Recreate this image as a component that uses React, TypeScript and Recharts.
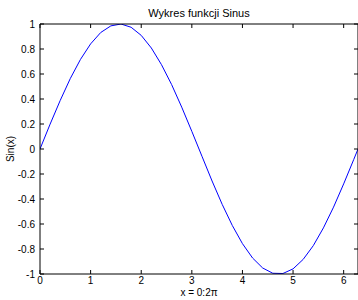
import React from 'react';
import { LineChart, Line, XAxis, YAxis, Label } from 'recharts';

// samples (x in radians, y = value plotted)
const xValues = [
  0, 0.2, 0.4, 0.6, 0.8, 1.0, 1.2, 1.4, 1.6, 1.8, 2.0, 2.2, 2.4, 2.6, 2.8, 3.0,
  3.2, 3.4, 3.6, 3.8, 4.0, 4.2, 4.4, 4.6, 4.8, 5.0, 5.2, 5.4, 5.6, 5.8, 6.0, 6.2, 6.2832,
];
const yValues = [
  0, 0.199, 0.389, 0.565, 0.717, 0.841, 0.932, 0.985, 1.0, 0.974, 0.909, 0.808, 0.675,
  0.516, 0.335, 0.141, -0.058, -0.256, -0.443, -0.612, -0.757, -0.872, -0.952, -0.994,
  -0.996, -0.959, -0.883, -0.773, -0.631, -0.465, -0.279, -0.083, 0,
];
const xTicks = [0, 1, 2, 3, 4, 5, 6];
const yTicks = [-1, -0.8, -0.6, -0.4, -0.2, 0, 0.2, 0.4, 0.6, 0.8, 1];
const xDomain: [number, number] = [0, 6.2832];
const yDomain: [number, number] = [-1, 1];

const data = xValues.map((x, i) => ({ x, y: yValues[i] }));

const font = '"Liberation Sans", Arial, sans-serif';
const tickStyle = { fontSize: 10, fill: '#000', fontFamily: font };
const axisColor = '#000';

export default function App() {
  return (
    <div style={{ position: 'absolute', left: 0, top: 0, width: 358, height: 300, overflow: 'hidden', background: '#fff' }}>
      <LineChart width={359} height={300} data={data} margin={{ top: 23, right: 0, bottom: 0, left: 0 }}>
        <XAxis
          xAxisId="bottom"
          dataKey="x"
          type="number"
          domain={xDomain}
          ticks={xTicks}
          allowDataOverflow
          height={26}
          tickSize={-4}
          tickMargin={7}
          tick={tickStyle}
          stroke={axisColor}
        >
          <Label
            content={({ viewBox }: any) => (
              <text x={viewBox.x + viewBox.width / 2} y={296} textAnchor="middle" fontSize={10} fontFamily={font} fill="#000">
                x = 0:2π
              </text>
            )}
          />
        </XAxis>
        <XAxis
          xAxisId="top"
          orientation="top"
          dataKey="x"
          type="number"
          domain={xDomain}
          ticks={xTicks}
          allowDataOverflow
          height={1}
          tickSize={-4}
          tickFormatter={() => ''}
          stroke={axisColor}
        >
          <Label
            content={({ viewBox }: any) => (
              <text x={viewBox.x + viewBox.width / 2} y={17} textAnchor="middle" fontSize={11} fontFamily={font} fill="#000">
                Wykres funkcji Sinus
              </text>
            )}
          />
        </XAxis>
        <YAxis
          yAxisId="left"
          dataKey="y"
          type="number"
          domain={yDomain}
          ticks={yTicks}
          allowDataOverflow
          width={40}
          tickSize={-4}
          tickMargin={9}
          tick={tickStyle}
          tickFormatter={(v: number) => String(v)}
          stroke={axisColor}
        >
          <Label
            content={({ viewBox }: any) => {
              const cy = viewBox.y + viewBox.height / 2;
              return (
                <text x={14} y={cy} transform={`rotate(-90 14 ${cy})`} textAnchor="middle" fontSize={10} fontFamily={font} fill="#000">
                  Sin(x)
                </text>
              );
            }}
          />
        </YAxis>
        <YAxis
          yAxisId="right"
          orientation="right"
          dataKey="y"
          type="number"
          domain={yDomain}
          ticks={yTicks}
          allowDataOverflow
          width={1}
          tickSize={-4}
          tickFormatter={() => ''}
          stroke={axisColor}
        />
        <Line
          xAxisId="bottom"
          yAxisId="left"
          type="linear"
          dataKey="y"
          stroke="#0000ff"
          strokeWidth={1}
          dot={false}
          isAnimationActive={false}
        />
      </LineChart>
    </div>
  );
}
